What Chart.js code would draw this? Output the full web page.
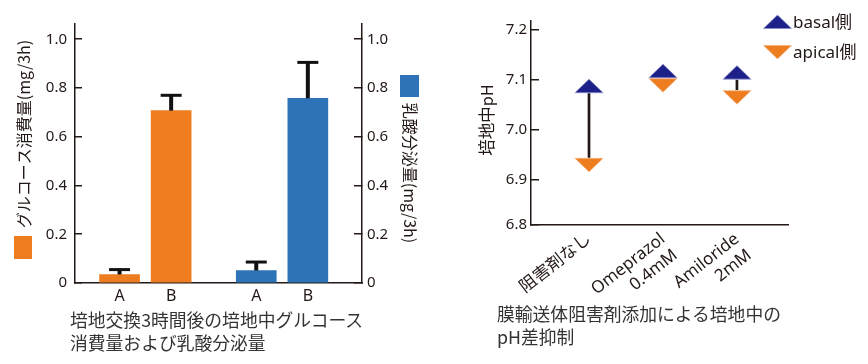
<!doctype html>
<html>

<head>
    <meta charset="utf-8">
    <title>Chart</title>
    <script src="https://cdn.jsdelivr.net/npm/chart.js"></script>
    <style>
        body { margin: 0; background: #fff; width: 868px; height: 364px; position: relative; overflow: hidden; font-family: 'Noto Sans CJK JP', sans-serif; }
        .box { position: absolute; top: 0; height: 364px; }
        .caption { position: absolute; font-size: 17.8px; line-height: 23px; color: #333; white-space: nowrap; }
    </style>
</head>

<body>

    <div class="box" style="left: 0; width: 440px;"><canvas id="secretion"></canvas></div>
    <div class="box" style="left: 440px; width: 428px;"><canvas id="ph"></canvas></div>
    <div class="caption" style="left: 70px; top: 308px;">培地交換3時間後の培地中グルコース<br>消費量および乳酸分泌量</div>
    <div class="caption" style="left: 497px; top: 302px;">膜輸送体阻害剤添加による培地中の<br>pH差抑制</div>

    <script>
        // left chart
        var barLabels = ['A', 'B'];
        var glucoseX = [1, 2];
        var glucose = [0.035, 0.707];
        var glucoseErr = [0.02, 0.063];
        var lactateX = [3.65, 4.65];
        var lactate = [0.051, 0.758];
        var lactateErr = [0.035, 0.147];
        var amountTicks = [0, 0.2, 0.4, 0.6, 0.8, 1.0];

        // right chart
        var phGroups = [['阻害剤なし'], ['Omeprazol', '0.4mM'], ['Amiloride', '2mM']];
        var phX = [1, 2, 3];
        var basal = [7.073, 7.103, 7.100];
        var apical = [6.944, 7.103, 7.079];
        var phTicks = [6.8, 6.9, 7.0, 7.1, 7.2];

        var ink = '#231815';
        var orange = '#ee7d1f';
        var blue = '#2e73b8';
        var navy = '#1d2088';

        Chart.defaults.font.family = "'Noto Sans', 'Noto Sans CJK JP', sans-serif";
        Chart.defaults.color = ink;

        var errorBars = {
            id: 'errorBars',
            afterDatasetsDraw: function (chart) {
                var ctx = chart.ctx;
                chart.data.datasets.forEach(function (ds, i) {
                    var scale = chart.scales[ds.yAxisID];
                    chart.getDatasetMeta(i).data.forEach(function (bar, j) {
                        var top = scale.getPixelForValue(ds.data[j].y + ds.errors[j]);
                        ctx.save();
                        ctx.strokeStyle = '#111';
                        ctx.lineWidth = 4;
                        ctx.beginPath();
                        ctx.moveTo(bar.x, bar.y);
                        ctx.lineTo(bar.x, top);
                        ctx.stroke();
                        ctx.lineWidth = 3;
                        ctx.beginPath();
                        ctx.moveTo(bar.x - 10.5, top);
                        ctx.lineTo(bar.x + 10.5, top);
                        ctx.stroke();
                        ctx.restore();
                    });
                });
            }
        };

        var sideTitles = {
            id: 'sideTitles',
            afterDraw: function (chart) {
                var ctx = chart.ctx;
                ctx.save();
                ctx.font = "16px 'Noto Sans CJK JP'";
                ctx.fillStyle = ink;
                ctx.textAlign = 'center';
                ctx.textBaseline = 'middle';

                ctx.save();
                ctx.translate(24, 134);
                ctx.rotate(-Math.PI / 2);
                ctx.fillText('グルコース消費量(mg/3h)', 0, 0);
                ctx.restore();

                ctx.save();
                ctx.translate(410, 173);
                ctx.rotate(Math.PI / 2);
                ctx.fillText('乳酸分泌量(mg/3h)', 0, 0);
                ctx.restore();

                ctx.fillStyle = orange;
                ctx.fillRect(14, 236, 18, 23);
                ctx.fillStyle = blue;
                ctx.fillRect(400, 75, 19, 22);
                ctx.restore();
            }
        };

        var secretion = new Chart(document.getElementById('secretion').getContext('2d'), {
            type: 'bar',
            data: {
                datasets: [{
                    label: 'グルコース消費量',
                    data: glucose.map((v, i) => ({ x: glucoseX[i], y: v })),
                    errors: glucoseErr,
                    backgroundColor: orange,
                    yAxisID: 'y',
                    barThickness: 40,
                    grouped: false
                }, {
                    label: '乳酸分泌量',
                    data: lactate.map((v, i) => ({ x: lactateX[i], y: v })),
                    errors: lactateErr,
                    backgroundColor: blue,
                    yAxisID: 'y1',
                    barThickness: 40,
                    grouped: false
                }]
            },
            options: {
                responsive: true,
                maintainAspectRatio: false,
                animation: false,
                layout: { padding: { top: 11, left: 0, right: 0, bottom: 0 } },
                plugins: {
                    legend: { display: false },
                    tooltip: { enabled: false }
                },
                scales: {
                    x: {
                        type: 'linear',
                        offset: false,
                        min: 0.136,
                        max: 5.7,
                        afterBuildTicks: function (axis) {
                            axis.ticks = glucoseX.concat(lactateX).map(v => ({ value: v }));
                        },
                        ticks: {
                            callback: function (v, i) { return barLabels[i % 2]; },
                            font: { size: 16 },
                            padding: 4,
                            maxRotation: 0,
                            autoSkip: false
                        },
                        grid: { display: false, drawTicks: false },
                        border: { color: ink, width: 1.5 },
                        afterFit: function (axis) { axis.height = 81; }
                    },
                    y: {
                        position: 'left',
                        min: 0,
                        max: 1.0625,
                        afterBuildTicks: function (axis) {
                            axis.ticks = amountTicks.map(v => ({ value: v }));
                        },
                        ticks: {
                            callback: function (v) { return v === 0 ? '0' : v.toFixed(1); },
                            font: { size: 15 },
                            padding: 15
                        },
                        grid: { drawOnChartArea: false, tickLength: -7, color: ink, lineWidth: 1.5 },
                        border: { color: ink, width: 1.5 },
                        afterFit: function (axis) { axis.width = 75; }
                    },
                    y1: {
                        position: 'right',
                        min: 0,
                        max: 1.0625,
                        afterBuildTicks: function (axis) {
                            axis.ticks = amountTicks.map(v => ({ value: v }));
                        },
                        ticks: {
                            callback: function (v) { return v === 0 ? '0' : v.toFixed(1); },
                            font: { size: 15 },
                            padding: 13
                        },
                        grid: { drawOnChartArea: false, tickLength: -8, color: ink, lineWidth: 1.5 },
                        border: { color: ink, width: 1.5 },
                        afterFit: function (axis) { axis.width = 78; }
                    }
                }
            },
            plugins: [errorBars, sideTitles]
        });

        // triangle markers, base edge at the data value
        function triangle(color, edge, up) {
            var c = document.createElement('canvas');
            c.width = 30;
            c.height = 30;
            var g = c.getContext('2d');
            g.fillStyle = color;
            g.beginPath();
            if (up) {
                g.moveTo(15, 1);
                g.lineTo(29.5, 15);
                g.lineTo(0.5, 15);
            } else {
                g.moveTo(15, 29);
                g.lineTo(29.5, 15);
                g.lineTo(0.5, 15);
            }
            g.closePath();
            g.fill();
            g.fillStyle = edge;
            g.fillRect(1, up ? 14 : 15, 28, 1);
            return c;
        }
        var upMark = triangle(navy, '#8c8dcc', true);
        var downMark = triangle(orange, '#f5b27c', false);

        var connectors = {
            id: 'connectors',
            beforeDatasetsDraw: function (chart) {
                var ctx = chart.ctx;
                var top = chart.getDatasetMeta(0).data;
                var bottom = chart.getDatasetMeta(1).data;
                ctx.save();
                ctx.strokeStyle = ink;
                ctx.lineWidth = 2.7;
                top.forEach(function (p, i) {
                    ctx.beginPath();
                    ctx.moveTo(p.x, p.y);
                    ctx.lineTo(bottom[i].x, bottom[i].y);
                    ctx.stroke();
                });
                ctx.restore();
            }
        };

        var phDecor = {
            id: 'phDecor',
            afterDraw: function (chart) {
                var ctx = chart.ctx;
                ctx.save();
                ctx.fillStyle = ink;
                ctx.textBaseline = 'middle';

                ctx.save();
                ctx.font = "16.5px 'Noto Sans CJK JP'";
                ctx.textAlign = 'center';
                ctx.translate(47, 120);
                ctx.rotate(-Math.PI / 2);
                ctx.fillText('培地中pH', 0, 0);
                ctx.restore();

                ctx.font = "17px 'Noto Sans', 'Noto Sans CJK JP'";
                ctx.textAlign = 'left';
                chart.data.datasets.forEach(function (ds, i) {
                    var img = ds.pointStyle;
                    var baseY = i === 0 ? 29 : 45;
                    ctx.drawImage(img, 337.5 - img.width / 2, baseY - img.height / 2);
                    ctx.fillText(ds.label, 353, i === 0 ? 23 : 53);
                });
                ctx.restore();
            }
        };

        var ph = new Chart(document.getElementById('ph').getContext('2d'), {
            type: 'line',
            data: {
                datasets: [{
                    label: 'basal側',
                    data: basal.map((v, i) => ({ x: phX[i], y: v })),
                    showLine: false,
                    pointStyle: upMark,
                    pointRadius: 6
                }, {
                    label: 'apical側',
                    data: apical.map((v, i) => ({ x: phX[i], y: v })),
                    showLine: false,
                    pointStyle: downMark,
                    pointRadius: 6
                }]
            },
            options: {
                responsive: true,
                maintainAspectRatio: false,
                animation: false,
                layout: { padding: { top: 13, left: 0, right: 80, bottom: 0 } },
                plugins: {
                    legend: { display: false },
                    tooltip: { enabled: false }
                },
                scales: {
                    x: {
                        type: 'linear',
                        offset: false,
                        min: 0.216,
                        max: 3.69,
                        afterBuildTicks: function (axis) {
                            axis.ticks = phX.map(v => ({ value: v }));
                        },
                        ticks: {
                            callback: function (v, i) { return phGroups[i]; },
                            font: { size: 17 },
                            padding: 4,
                            minRotation: 38,
                            maxRotation: 38,
                            autoSkip: false
                        },
                        grid: { display: false, drawTicks: false },
                        border: { color: ink, width: 1.5 },
                        afterFit: function (axis) { axis.height = 139; }
                    },
                    y: {
                        min: 6.81,
                        max: 7.217,
                        afterBuildTicks: function (axis) {
                            axis.ticks = phTicks.map(v => ({ value: Math.max(v, axis.min) }));
                        },
                        ticks: {
                            callback: function (v) { return v.toFixed(1); },
                            font: { size: 15 },
                            padding: 12
                        },
                        grid: { drawOnChartArea: false, tickLength: -8, color: ink, lineWidth: 1.5 },
                        border: { color: ink, width: 1.5 },
                        afterFit: function (axis) { axis.width = 91; }
                    }
                }
            },
            plugins: [connectors, phDecor]
        });
    </script>
</body>

</html>
